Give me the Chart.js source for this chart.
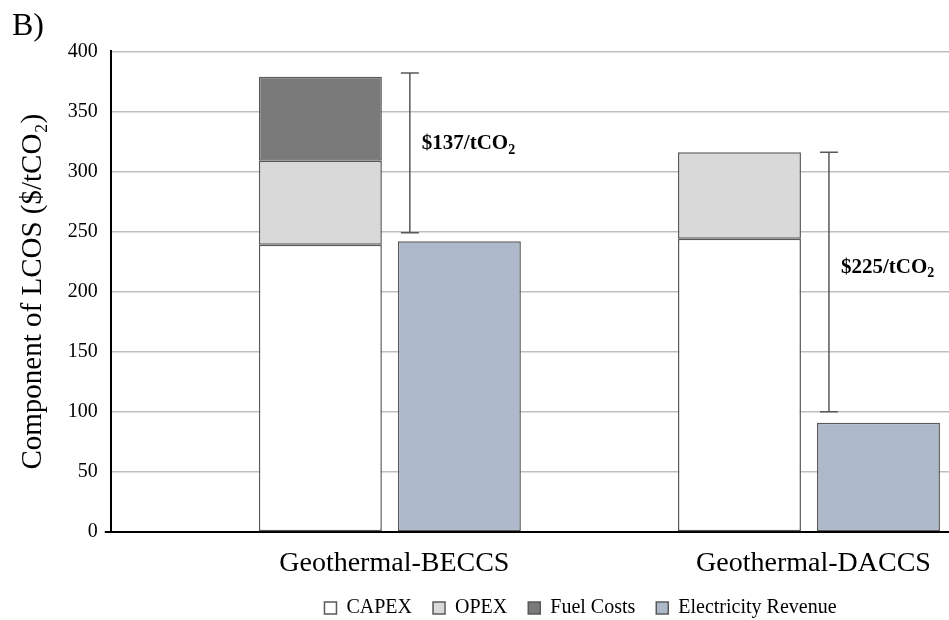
<!DOCTYPE html>
<html>
<head>
<meta charset="utf-8">
<script src="https://cdn.jsdelivr.net/npm/chart.js@4.4.1/dist/chart.umd.min.js"></script>
<style>
  html, body { margin: 0; padding: 0; background: #fff; overflow: hidden; }
  #wrap { width: 949px; height: 628px; }
</style>
</head>
<body>
<div id="wrap"><canvas id="chart"></canvas></div>
<script>
// 카테고리와 값
const categories = ['Geothermal-BECCS', 'Geothermal-DACCS'];
const capex = [239, 244];
const opex = [70, 72];
const fuelCosts = [70, null];
const elecRevenue = [242, 91];

// 비용-수익 차이 구간 (오차막대 모양)
const gapLow = [249, 100];
const gapHigh = [382, 316];
const gapValues = [137, 225];
const gapLabelY = [323, 220];

const serif = '"Liberation Serif", "Times New Roman", serif';
Chart.defaults.font.family = serif;
Chart.defaults.color = '#000';

// 차이 구간 + 라벨 그리기
const gapBars = {
  id: 'gapBars',
  afterDatasetsDraw(chart) {
    const { ctx, scales, chartArea } = chart;
    const meta = chart.getDatasetMeta(4);
    ctx.save();

    // x축을 y축 왼쪽으로 살짝 연장
    const y0 = scales.y.getPixelForValue(0);
    ctx.strokeStyle = '#000';
    ctx.lineWidth = 2;
    ctx.beginPath();
    ctx.moveTo(chartArea.left - 6, y0);
    ctx.lineTo(chartArea.left, y0);
    ctx.stroke();

    meta.data.forEach((bar, i) => {
      const { x, width } = bar.getProps(['x', 'width'], true);
      const ex = x - width / 2 + 12;
      const yTop = scales.y.getPixelForValue(gapHigh[i]);
      const yBot = scales.y.getPixelForValue(gapLow[i]);

      ctx.strokeStyle = '#595959';
      ctx.lineWidth = 1.5;
      ctx.beginPath();
      ctx.moveTo(ex, yTop);
      ctx.lineTo(ex, yBot);
      ctx.moveTo(ex - 9, yTop);
      ctx.lineTo(ex + 9, yTop);
      ctx.moveTo(ex - 9, yBot);
      ctx.lineTo(ex + 9, yBot);
      ctx.stroke();

      const ty = scales.y.getPixelForValue(gapLabelY[i]);
      const main = '$' + gapValues[i] + '/tCO';
      ctx.fillStyle = '#000';
      ctx.textBaseline = 'middle';
      ctx.textAlign = 'left';
      ctx.font = 'bold 21px ' + serif;
      ctx.fillText(main, ex + 12, ty);
      const w = ctx.measureText(main).width;
      ctx.font = 'bold 14px ' + serif;
      ctx.fillText('2', ex + 12 + w, ty + 6);
    });
    ctx.restore();
  }
};

// 범례를 오른쪽으로 옮김
const legendShift = {
  id: 'legendShift',
  afterLayout(chart) {
    chart.legend.left += 100;
    chart.legend.right += 100;
  }
};

const barStyle = {
  borderColor: '#595959',
  borderWidth: 1.5,
  borderSkipped: false,
  barPercentage: 0.885,
  categoryPercentage: 0.995
};

new Chart(document.getElementById('chart'), {
  type: 'bar',
  data: {
    labels: categories,
    datasets: [
      { label: '', data: [null, null], stack: 'pad', backgroundColor: 'rgba(0,0,0,0)', borderWidth: 0,
        barPercentage: 0.885, categoryPercentage: 0.995 },
      { label: 'CAPEX', data: capex, stack: 'cost', backgroundColor: '#ffffff', ...barStyle },
      { label: 'OPEX', data: opex, stack: 'cost', backgroundColor: '#d9d9d9', ...barStyle },
      { label: 'Fuel Costs', data: fuelCosts, stack: 'cost', backgroundColor: '#7a7a7a', ...barStyle },
      { label: 'Electricity Revenue', data: elecRevenue, stack: 'rev', backgroundColor: '#adb9ca', ...barStyle }
    ]
  },
  options: {
    responsive: true,
    maintainAspectRatio: false,
    animation: false,
    layout: { padding: { left: 12, right: 0, top: 0, bottom: 0 } },
    plugins: {
      title: {
        display: true,
        text: 'B)',
        align: 'start',
        color: '#000',
        font: { size: 32, weight: 'normal', family: serif },
        padding: { top: 7, bottom: 6 }
      },
      legend: {
        position: 'bottom',
        labels: {
          boxWidth: 12,
          boxHeight: 12,
          padding: 21,
          color: '#000',
          font: { size: 20, family: serif },
          filter: item => item.text !== ''
        }
      },
      tooltip: { enabled: false }
    },
    scales: {
      x: {
        stacked: true,
        grid: { display: false, drawTicks: false },
        border: { color: '#000', width: 2 },
        ticks: { font: { size: 28 }, padding: 15, labelOffset: 74, color: '#000' },
        afterFit(scale) { scale.height = 45; }
      },
      y: {
        stacked: true,
        min: 0,
        max: 400,
        grid: { color: '#bfbfbf', lineWidth: 1.5, drawTicks: false },
        border: { color: '#000', width: 2 },
        ticks: { stepSize: 50, font: { size: 20 }, padding: 13, color: '#000' },
        title: {
          display: true,
          text: 'Component of LCOS ($/tCO₂)',
          color: '#000',
          font: { size: 29 },
          padding: { top: 4, bottom: 4 }
        }
      }
    }
  },
  plugins: [gapBars, legendShift]
});
</script>
</body>
</html>
